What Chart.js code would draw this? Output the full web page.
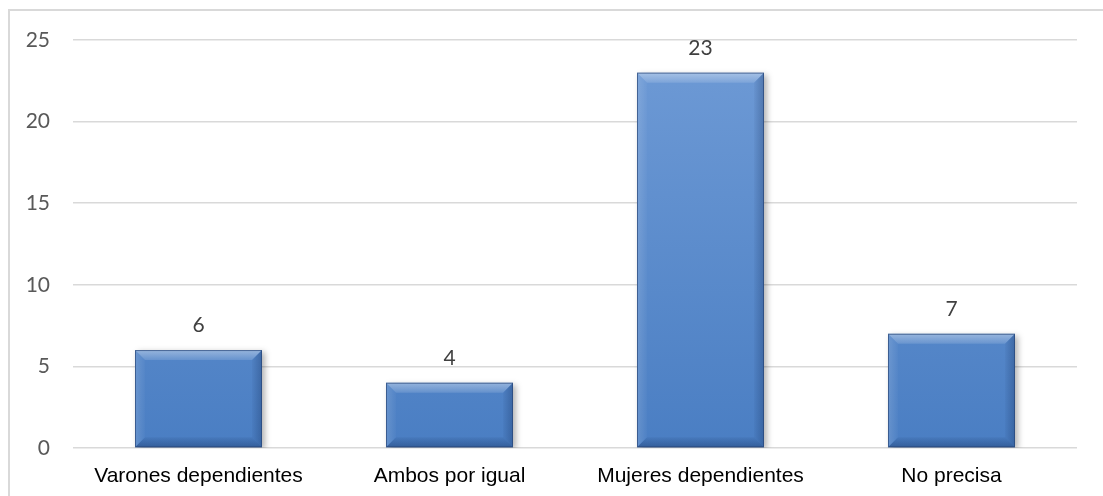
<!DOCTYPE html>
<html>
<head>
<meta charset="utf-8">
<script src="https://cdn.jsdelivr.net/npm/chart.js@4/dist/chart.umd.min.js"></script>
<style>
    html, body { margin: 0; padding: 0; background: #fff; overflow: hidden; }
    #wrap { position: relative; width: 1103px; height: 496px; }
    #frame {
        position: absolute; left: 8px; top: 9px; width: 1200px; height: 600px;
        border: 2px solid #d9d9d9; box-sizing: border-box;
    }
    canvas { position: absolute; left: 0; top: 0; }
</style>
</head>
<body>
<div id="wrap">
    <div id="frame"></div>
    <canvas id="chart" width="1103" height="496"></canvas>
</div>
<script>
// datos del gráfico
const categorias = ['Varones dependientes', 'Ambos por igual', 'Mujeres dependientes', 'No precisa'];
const valores = [6, 4, 23, 7];
const ticksY = [0, 5, 10, 15, 20, 25];

const numFont = { family: 'Lato, "Open Sans", sans-serif', size: 21 };

// sombra detras de las barras
const sombra = {
    id: 'sombra',
    beforeDatasetDraw(chart) {
        const ctx = chart.ctx;
        ctx.save();
        ctx.shadowColor = 'rgba(0,0,0,0.3)';
        ctx.shadowBlur = 6;
        ctx.shadowOffsetX = 3;
        ctx.shadowOffsetY = 2;
    },
    afterDatasetDraw(chart) {
        chart.ctx.restore();
    }
};

// bisel y etiquetas de valor
const bisel = {
    id: 'bisel',
    afterDatasetsDraw(chart) {
        const ctx = chart.ctx;
        const meta = chart.getDatasetMeta(0);
        meta.data.forEach((bar, i) => {
            const l = bar.x - bar.width / 2, r = bar.x + bar.width / 2;
            const t = bar.y, b = bar.base;
            const s = Math.min(10, (b - t) / 2);
            const poly = (pts, fill) => {
                ctx.beginPath();
                ctx.moveTo(pts[0][0], pts[0][1]);
                pts.slice(1).forEach(p => ctx.lineTo(p[0], p[1]));
                ctx.closePath();
                ctx.fillStyle = fill;
                ctx.fill();
            };
            ctx.save();
            const gTop = ctx.createLinearGradient(0, t, 0, t + s);
            gTop.addColorStop(0, 'rgba(255,255,255,0.40)');
            gTop.addColorStop(1, 'rgba(255,255,255,0.12)');
            poly([[l, t], [r, t], [r - s, t + s], [l + s, t + s]], gTop);
            const gL = ctx.createLinearGradient(l, 0, l + s, 0);
            gL.addColorStop(0, 'rgba(255,255,255,0.15)');
            gL.addColorStop(1, 'rgba(255,255,255,0.02)');
            poly([[l, t], [l + s, t + s], [l + s, b - s], [l, b]], gL);
            const gR = ctx.createLinearGradient(r - s, 0, r, 0);
            gR.addColorStop(0, 'rgba(0,20,60,0.03)');
            gR.addColorStop(1, 'rgba(0,20,60,0.25)');
            poly([[r, t], [r, b], [r - s, b - s], [r - s, t + s]], gR);
            const gB = ctx.createLinearGradient(0, b - s, 0, b);
            gB.addColorStop(0, 'rgba(0,20,60,0.05)');
            gB.addColorStop(1, 'rgba(0,20,60,0.30)');
            poly([[l, b], [r, b], [r - s, b - s], [l + s, b - s]], gB);
            ctx.strokeStyle = 'rgba(40,70,120,0.7)';
            ctx.lineWidth = 1;
            ctx.strokeRect(l + 0.5, t + 0.5, r - l - 1, b - t - 1);

            ctx.fillStyle = '#404040';
            ctx.font = numFont.size + 'px ' + numFont.family;
            ctx.textAlign = 'center';
            ctx.textBaseline = 'alphabetic';
            ctx.fillText(String(valores[i]), bar.x, t - 18);
            ctx.restore();
        });
    }
};

const ctx = document.getElementById('chart').getContext('2d');

new Chart(ctx, {
    type: 'bar',
    data: {
        labels: categorias,
        datasets: [{
            data: valores,
            backgroundColor: (c) => {
                const area = c.chart.chartArea;
                if (!area) return '#4f81bd';
                const g = c.chart.ctx.createLinearGradient(0, area.top, 0, area.bottom);
                g.addColorStop(0, '#6f9bd6');
                g.addColorStop(1, '#4a7ec3');
                return g;
            },
            borderWidth: 0,
            barPercentage: 0.506,
            categoryPercentage: 1
        }]
    },
    options: {
        responsive: false,
        animation: false,
        layout: { padding: { top: 40, right: 26, left: 0, bottom: 0 } },
        plugins: {
            legend: { display: false },
            tooltip: { enabled: false }
        },
        scales: {
            x: {
                grid: { display: false, drawTicks: false },
                border: { display: false },
                ticks: {
                    color: '#000',
                    font: { family: '"Liberation Sans", Arial, sans-serif', size: 21 },
                    padding: 16,
                    maxRotation: 0,
                    autoSkip: false
                },
                afterFit(scale) { scale.height = 48; }
            },
            y: {
                min: 0,
                max: 25,
                afterBuildTicks(scale) { scale.ticks = ticksY.map(v => ({ value: v })); },
                grid: { color: '#d9d9d9', lineWidth: 1.5, drawTicks: false },
                border: { display: false },
                ticks: {
                    color: '#595959',
                    font: numFont,
                    padding: 23
                },
                afterFit(scale) { scale.width = 73; }
            }
        }
    },
    plugins: [sombra, bisel]
});
</script>
</body>
</html>
